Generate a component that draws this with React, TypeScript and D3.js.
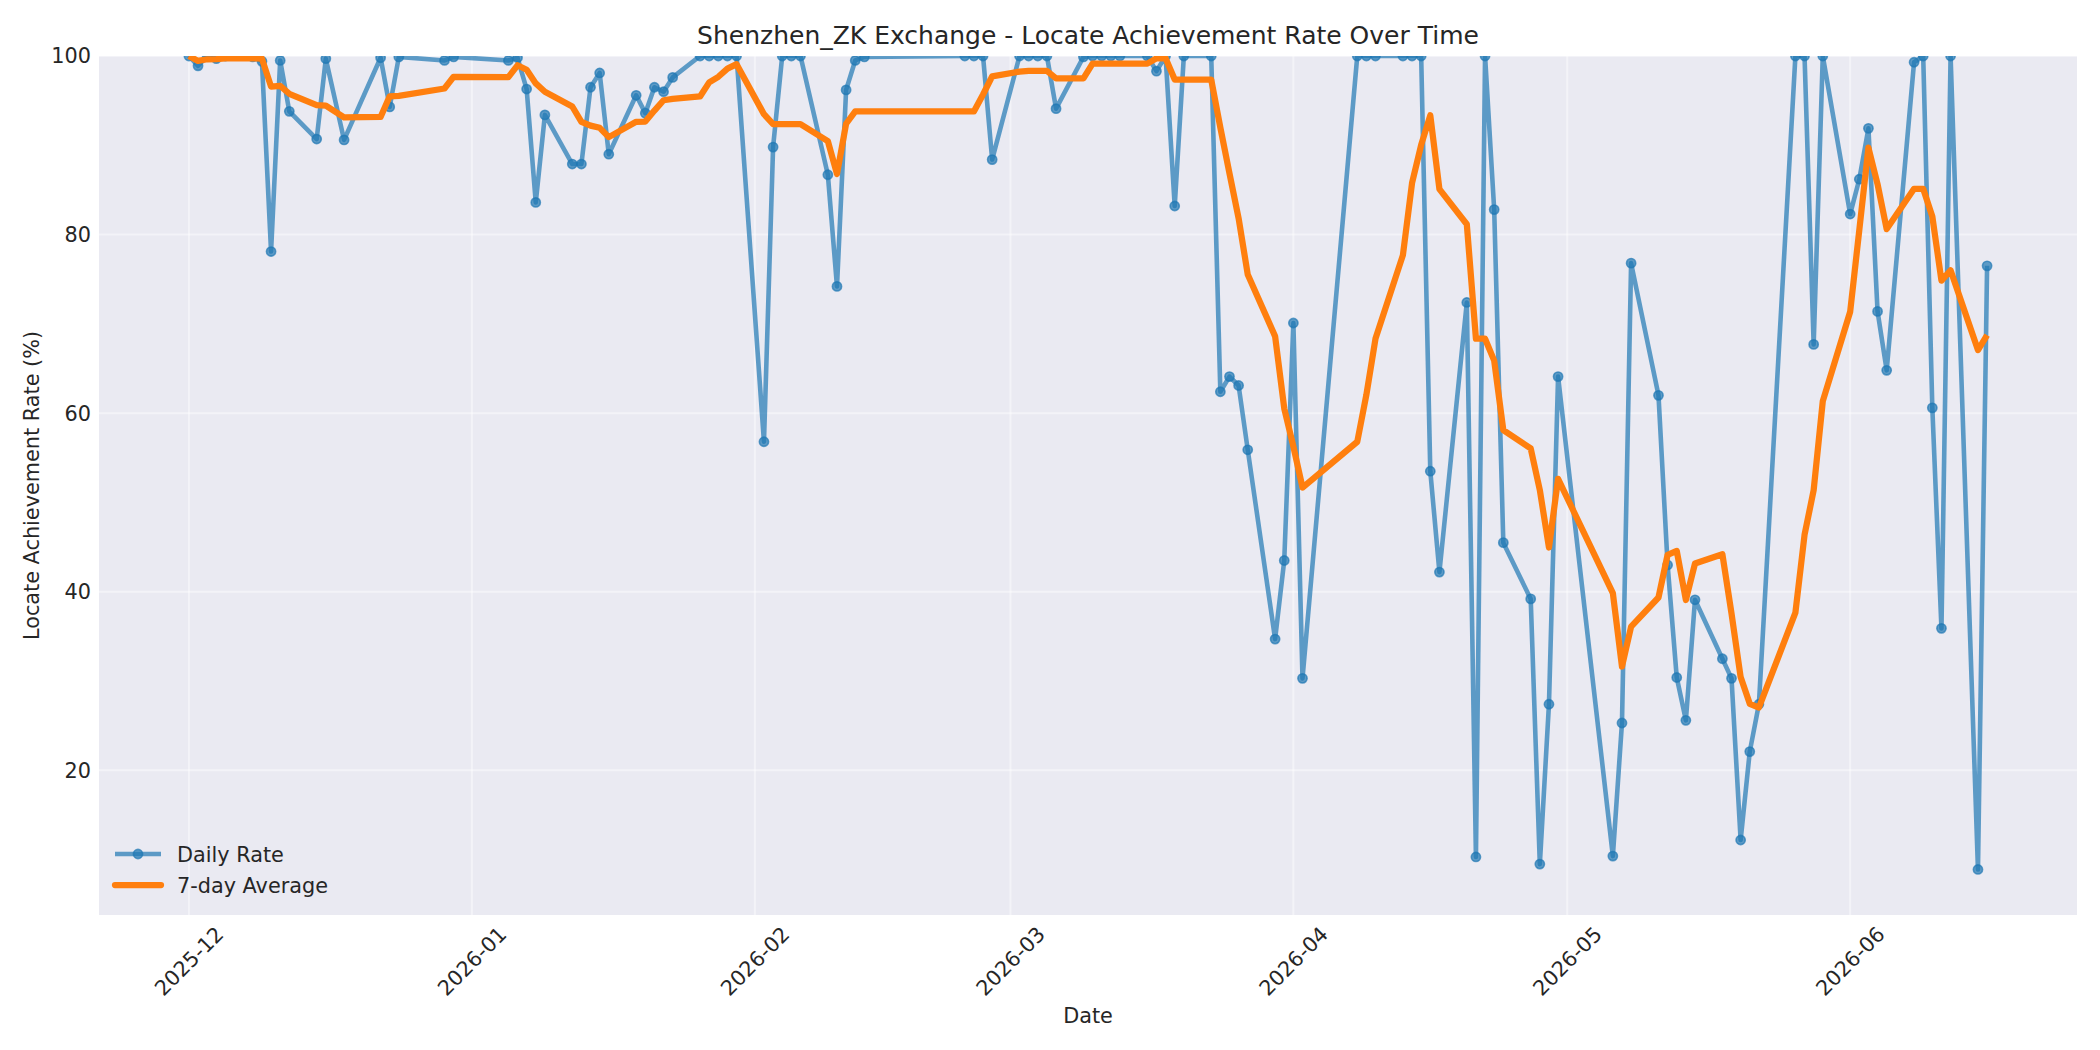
import React, { useRef, useEffect } from "react";
import * as d3 from "d3";

// trading days (Dec 2025 - Jun 2026)
const dates = [
    "2025-12-01", "2025-12-02", "2025-12-03", "2025-12-04", "2025-12-05",
    "2025-12-08", "2025-12-09", "2025-12-10", "2025-12-11", "2025-12-12",
    "2025-12-15", "2025-12-16", "2025-12-18", "2025-12-22", "2025-12-23",
    "2025-12-24", "2025-12-29", "2025-12-30",
    "2026-01-05", "2026-01-06", "2026-01-07", "2026-01-08", "2026-01-09",
    "2026-01-12", "2026-01-13", "2026-01-14", "2026-01-15", "2026-01-16",
    "2026-01-19", "2026-01-20", "2026-01-21", "2026-01-22", "2026-01-23",
    "2026-01-26", "2026-01-27", "2026-01-28", "2026-01-29", "2026-01-30",
    "2026-02-02", "2026-02-03", "2026-02-04", "2026-02-05", "2026-02-06",
    "2026-02-09", "2026-02-10", "2026-02-11", "2026-02-12", "2026-02-13",
    "2026-02-24", "2026-02-25", "2026-02-26", "2026-02-27",
    "2026-03-02", "2026-03-03", "2026-03-04", "2026-03-05", "2026-03-06",
    "2026-03-09", "2026-03-10", "2026-03-11", "2026-03-12", "2026-03-13",
    "2026-03-16", "2026-03-17", "2026-03-18", "2026-03-19", "2026-03-20",
    "2026-03-23", "2026-03-24", "2026-03-25", "2026-03-26", "2026-03-27",
    "2026-03-30", "2026-03-31", "2026-04-01", "2026-04-02",
    "2026-04-08", "2026-04-09", "2026-04-10",
    "2026-04-13", "2026-04-14", "2026-04-15", "2026-04-16", "2026-04-17",
    "2026-04-20", "2026-04-21", "2026-04-22", "2026-04-23", "2026-04-24",
    "2026-04-27", "2026-04-28", "2026-04-29", "2026-04-30",
    "2026-05-06", "2026-05-07", "2026-05-08",
    "2026-05-11", "2026-05-12", "2026-05-13", "2026-05-14", "2026-05-15",
    "2026-05-18", "2026-05-19", "2026-05-20", "2026-05-21", "2026-05-22",
    "2026-05-26", "2026-05-27", "2026-05-28", "2026-05-29",
    "2026-06-01", "2026-06-02", "2026-06-03", "2026-06-04", "2026-06-05",
    "2026-06-08", "2026-06-09", "2026-06-10", "2026-06-11", "2026-06-12",
    "2026-06-15", "2026-06-16",
];

const dailyRate = [
    100, 98.9, 100, 99.7, 100,
    99.9, 99.4, 78.1, 99.5, 93.8,
    90.7, 99.7, 90.6, 99.8, 94.3,
    99.9, 99.5, 99.9,
    99.5, 99.8, 96.3, 83.6, 93.4,
    87.9, 87.9, 96.5, 98.1, 89.0,
    95.6, 93.6, 96.5, 96.0, 97.6,
    100, 100, 100, 100, 100,
    56.8, 89.8, 100, 100, 100,
    86.7, 74.2, 96.2, 99.5, 99.9,
    100, 100, 100, 88.4,
    100, 100, 100, 100, 94.1,
    99.9, 100, 100, 100, 100,
    100, 98.3, 100, 83.2, 100,
    100, 62.4, 64.1, 63.1, 55.9,
    34.7, 43.5, 70.1, 30.3,
    100, 100, 100,
    100, 100, 100, 53.5, 42.2,
    72.4, 10.3, 100, 82.8, 45.5,
    39.2, 9.5, 27.4, 64.1,
    10.4, 25.3, 76.8,
    62.0, 43.0, 30.4, 25.6, 39.1,
    32.5, 30.3, 12.2, 22.1, 27.4,
    100, 100, 67.7, 100,
    82.3, 86.2, 91.9, 71.4, 64.8,
    99.3, 100, 60.6, 35.9, 100,
    8.9, 76.5,
];

const monthTicks = ["2025-12", "2026-01", "2026-02", "2026-03", "2026-04", "2026-05", "2026-06"];
const yTicks = [20, 40, 60, 80, 100];
const windowSize = 7;

const App: React.FC = () => {
    const svgRef = useRef<SVGSVGElement | null>(null);

    useEffect(() => {
        if (!svgRef.current) return;

        const width = 2100;
        const height = 1050;
        const left = 99, right = 2077, top = 56, bottom = 915;
        const textColor = "#262626";
        const font = "DejaVu Sans, sans-serif";
        const blueWidth = 4.6;
        const markerR = 4.6;

        const parse = d3.utcParse("%Y-%m-%d");
        const data = dates.map((d, i) => ({ date: parse(d) as Date, value: dailyRate[i] }));
        // rolling mean over the last 7 observations (min 1), as in the source chart
        const avg = data.map((d, i) => ({
            date: d.date,
            value: d3.mean(data.slice(Math.max(0, i - windowSize + 1), i + 1), e => e.value) as number,
        }));

        const [d0, d1] = d3.extent(data, d => d.date) as [Date, Date];
        const pad = (+d1 - +d0) * 0.05;
        const x = d3.scaleUtc()
            .domain([new Date(+d0 - pad), new Date(+d1 + pad)])
            .range([left, right]);
        const y = d3.scaleLinear().domain([3.8, 100]).range([bottom, top]);

        const svg = d3.select(svgRef.current);
        svg.selectAll("*").remove();
        svg.attr("width", width).attr("height", height).attr("viewBox", `0 0 ${width} ${height}`);

        svg.append("rect").attr("width", width).attr("height", height).attr("fill", "#ffffff");

        // axes background
        svg.append("rect")
            .attr("x", left).attr("y", top)
            .attr("width", right - left).attr("height", bottom - top)
            .attr("fill", "#eaeaf2");

        svg.append("clipPath").attr("id", "plot-clip")
            .append("rect")
            .attr("x", left).attr("y", top)
            .attr("width", right - left).attr("height", bottom - top);

        const monthDates = monthTicks.map(m => parse(m + "-01") as Date);

        // grid
        const grid = svg.append("g").attr("stroke", "#ffffff").attr("stroke-opacity", 0.45).attr("stroke-width", 2);
        grid.selectAll("line.v").data(monthDates).join("line")
            .attr("class", "v")
            .attr("x1", d => x(d)).attr("x2", d => x(d))
            .attr("y1", top).attr("y2", bottom);
        grid.selectAll("line.h").data(yTicks).join("line")
            .attr("class", "h")
            .attr("x1", left).attr("x2", right)
            .attr("y1", d => y(d)).attr("y2", d => y(d));

        const plot = svg.append("g").attr("clip-path", "url(#plot-clip)");

        const line = d3.line<{ date: Date; value: number }>()
            .x(d => x(d.date))
            .y(d => y(d.value));

        // daily rate
        plot.append("path")
            .datum(data)
            .attr("d", line)
            .attr("fill", "none")
            .attr("stroke", "#1f77b4")
            .attr("stroke-opacity", 0.7)
            .attr("stroke-width", blueWidth)
            .attr("stroke-linejoin", "round");

        plot.selectAll("circle.pt").data(data).join("circle")
            .attr("class", "pt")
            .attr("cx", d => x(d.date))
            .attr("cy", d => y(d.value))
            .attr("r", markerR)
            .attr("fill", "#1f77b4")
            .attr("fill-opacity", 0.7)
            .attr("stroke", "#1f77b4")
            .attr("stroke-opacity", 0.7)
            .attr("stroke-width", 1.6);

        // 7-day average
        plot.append("path")
            .datum(avg)
            .attr("d", line)
            .attr("fill", "none")
            .attr("stroke", "#ff7f0e")
            .attr("stroke-width", 6.25)
            .attr("stroke-linejoin", "round");

        // y tick labels
        svg.append("g")
            .selectAll("text").data(yTicks).join("text")
            .attr("x", left - 8)
            .attr("y", d => y(d))
            .attr("dy", "0.36em")
            .attr("text-anchor", "end")
            .attr("font-family", font)
            .attr("font-size", 20.8)
            .attr("fill", textColor)
            .text(d => d);

        // x tick labels, rotated 45 degrees, centred on the tick
        svg.append("g")
            .selectAll("text").data(monthDates).join("text")
            .attr("transform", d => `translate(${x(d)},961) rotate(-45)`)
            .attr("dy", "0.36em")
            .attr("text-anchor", "middle")
            .attr("font-family", font)
            .attr("font-size", 20.8)
            .attr("fill", textColor)
            .text((_, i) => monthTicks[i]);

        // axis labels and title
        svg.append("text")
            .attr("x", (left + right) / 2).attr("y", 1023)
            .attr("text-anchor", "middle")
            .attr("font-family", font).attr("font-size", 20.8).attr("fill", textColor)
            .text("Date");

        svg.append("text")
            .attr("transform", `translate(31,${(top + bottom) / 2}) rotate(-90)`)
            .attr("dy", "0.36em")
            .attr("text-anchor", "middle")
            .attr("font-family", font).attr("font-size", 20.8).attr("fill", textColor)
            .text("Locate Achievement Rate (%)");

        svg.append("text")
            .attr("x", (left + right) / 2).attr("y", 43.5)
            .attr("text-anchor", "middle")
            .attr("font-family", font).attr("font-size", 25).attr("fill", textColor)
            .text("Shenzhen_ZK Exchange - Locate Achievement Rate Over Time");

        // legend
        const legend = svg.append("g");
        legend.append("line")
            .attr("x1", 115).attr("x2", 161).attr("y1", 854).attr("y2", 854)
            .attr("stroke", "#1f77b4").attr("stroke-opacity", 0.7).attr("stroke-width", blueWidth);
        legend.append("circle")
            .attr("cx", 138).attr("cy", 854).attr("r", markerR)
            .attr("fill", "#1f77b4").attr("fill-opacity", 0.7)
            .attr("stroke", "#1f77b4").attr("stroke-opacity", 0.7).attr("stroke-width", 1.6);
        legend.append("line")
            .attr("x1", 115).attr("x2", 161).attr("y1", 885).attr("y2", 885)
            .attr("stroke", "#ff7f0e").attr("stroke-width", 6.25).attr("stroke-linecap", "round");
        legend.selectAll("text").data(["Daily Rate", "7-day Average"]).join("text")
            .attr("x", 177)
            .attr("y", (_, i) => 862 + i * 31)
            .attr("font-family", font).attr("font-size", 20.8).attr("fill", textColor)
            .text(d => d);
    }, []);

    return <svg ref={svgRef} style={{ position: "absolute", left: 0, top: 0, display: "block" }} />;
};

export default App;
